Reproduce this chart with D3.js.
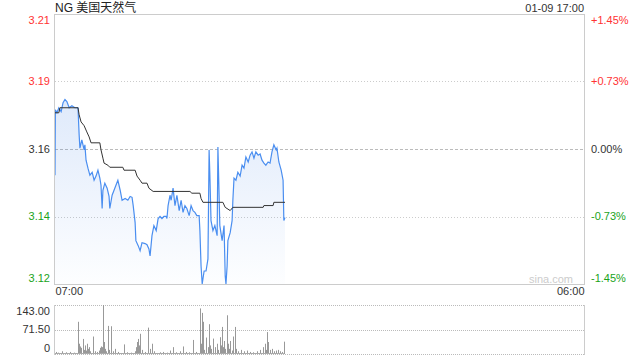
<!DOCTYPE html>
<html>
<head>
<meta charset="utf-8">
<script src="https://cdn.jsdelivr.net/npm/d3@7"></script>
<style>
  body { margin: 0; background: #fff; }
  svg { display: block; font-family: "Liberation Sans", Arial, "Noto Sans CJK SC", sans-serif; }
</style>
</head>
<body>
<div id="container"></div>
<script>
// price line (minute data)
const priceTimes = ['07:00','07:01','07:05','07:10','07:16','07:21','07:26','07:31','07:37','07:44','07:52','08:00','08:03','08:05','08:10','08:16','08:18','08:21','08:26','08:31','08:37','08:42','08:47','08:52','08:57','09:00','09:03','09:05','09:10','09:16','09:21','09:23','09:29','09:34','09:39','09:44','09:50','09:55','10:03','10:10','10:16','10:21','10:24','10:29','10:31','10:37','10:42','10:47','10:55','11:00','11:05','11:08','11:13','11:18','11:24','11:29','11:34','11:39','11:44','11:50','11:52','11:55','12:00','12:03','12:08','12:13','12:18','12:24','12:29','12:34','12:39','12:44','12:50','12:55','13:00','13:05','13:10','13:16','13:18','13:21','13:24','13:29','13:34','13:39','13:42','13:44','13:47','13:52','13:57','14:03','14:05','14:10','14:16','14:21','14:24','14:26','14:29','14:31','14:37','14:42','14:44','14:47','14:52','14:57','15:03','15:08','15:13','15:18','15:24','15:29','15:34','15:39','15:44','15:50','15:55','16:00','16:05','16:10','16:16','16:21','16:26','16:31','16:37','16:39','16:44','16:50','16:55','16:57','17:00']
const prices = [3.1511,3.1733,3.1723,3.1740,3.1727,3.1757,3.1768,3.1761,3.1740,3.1747,3.1740,3.1740,3.1648,3.1603,3.1631,3.1597,3.1614,3.1562,3.1535,3.1511,3.1521,3.1494,3.1508,3.1528,3.1501,3.1477,3.1398,3.1460,3.1484,3.1467,3.1439,3.1398,3.1443,3.1460,3.1477,3.1494,3.1460,3.1426,3.1432,3.1426,3.1439,3.1436,3.1408,3.1350,3.1289,3.1272,3.1255,3.1282,3.1279,3.1275,3.1261,3.1237,3.1306,3.1340,3.1323,3.1364,3.1371,3.1364,3.1371,3.1371,3.1364,3.1408,3.1443,3.1426,3.1467,3.1408,3.1443,3.1391,3.1426,3.1385,3.1408,3.1398,3.1374,3.1408,3.1391,3.1385,3.1374,3.1374,3.1323,3.1203,3.1142,3.1186,3.1186,3.1227,3.1597,3.1511,3.1357,3.1323,3.1340,3.1306,3.1607,3.1340,3.1289,3.1340,3.1169,3.1142,3.1203,3.1289,3.1316,3.1357,3.1426,3.1501,3.1494,3.1521,3.1508,3.1545,3.1535,3.1573,3.1556,3.1579,3.1590,3.1569,3.1590,3.1579,3.1583,3.1562,3.1552,3.1545,3.1556,3.1552,3.1590,3.1614,3.1597,3.1603,3.1556,3.1528,3.1494,3.1357,3.1367]

// average price line
const avgTimes = ['07:00','07:10','07:13','08:00','08:03','08:08','08:16','08:23','08:29','08:34','08:57','09:00','09:05','09:08','09:18','09:23','09:57','10:00','10:29','10:34','10:42','10:47','11:00','11:05','11:16','12:52','12:57','13:18','13:21','13:26','14:18','14:24','14:37','14:44','16:03','16:05','16:29','16:31','17:00']
const avgPrices = [3.1723,3.1723,3.1740,3.1740,3.1716,3.1692,3.1679,3.1658,3.1641,3.1621,3.1621,3.1597,3.1569,3.1552,3.1545,3.1538,3.1538,3.1528,3.1528,3.1508,3.1494,3.1484,3.1484,3.1467,3.1456,3.1456,3.1450,3.1450,3.1432,3.1419,3.1419,3.1402,3.1391,3.1402,3.1402,3.1408,3.1408,3.1419,3.1419]

// volume bars
const volTimes = ['07:03','07:08','07:18','07:29','07:39','07:50','08:00','08:03','08:05','08:08','08:13','08:16','08:18','08:21','08:23','08:26','08:29','08:31','08:39','08:44','08:50','08:55','08:57','09:00','09:03','09:05','09:08','09:10','09:13','09:18','09:21','09:26','09:31','09:37','09:44','10:00','10:08','10:18','10:29','10:31','10:34','10:37','10:39','10:42','10:47','10:55','11:03','11:08','11:13','11:18','11:34','11:42','11:52','12:00','12:08','12:16','12:26','12:34','12:42','12:50','13:00','13:08','13:18','13:21','13:24','13:26','13:29','13:34','13:39','13:42','13:44','13:47','13:52','13:57','14:03','14:05','14:10','14:13','14:16','14:18','14:21','14:24','14:29','14:31','14:34','14:37','14:42','14:44','14:50','14:52','14:57','15:05','15:13','15:21','15:29','15:37','15:47','15:55','16:03','16:08','16:10','16:13','16:16','16:21','16:26','16:31','16:37','16:42','16:47','16:52','16:57']
const volumes = [6,4,8,5,6,4,94,30,22,18,44,12,25,10,30,15,20,8,51,8,6,10,18,22,20,143,35,15,8,82,12,81,8,15,6,28,5,4,8,20,35,44,25,59,12,6,77,15,30,8,5,6,4,10,20,5,8,22,6,5,41,6,133,30,120,94,12,48,20,87,25,15,45,20,30,12,49,25,79,20,38,15,113,30,15,38,10,51,79,15,8,12,8,10,6,5,8,12,20,30,12,64,35,12,15,8,10,12,8,6,36]

const prevClose = 3.16
const pctTicks = [1.45, 0.73, 0, -0.73, -1.45]
const priceLabels = ['3.21', '3.19', '3.16', '3.14', '3.12']
const volTicks = [143, 71.5, 0]
const title = 'NG 美国天然气'
const stamp = '01-09 17:00'
const sessionStart = '2025-01-09 07:00'
const sessionEnd = '2025-01-10 06:00'

const w = 640
const h = 360
const x0 = 55, x1 = 584
const pTop = 14, pBottom = 284
const vTop = 305, vBottom = 354
const red = '#f33', green = '#1aa31a', dark = '#333'

const svg = d3.select('#container')
              .append('svg')
              .attr('width', w)
              .attr('height', h)

const parseFull = d3.timeParse('%Y-%m-%d %H:%M')
const parseT = t => parseFull('2025-01-09 ' + t)

// Scales
const xScale = d3.scaleTime()
                 .domain([parseFull(sessionStart), parseFull(sessionEnd)])
                 .range([x0, x1])
const lo = prevClose * (1 - 0.0145), hi = prevClose * (1 + 0.0145)
const yScale = d3.scaleLinear().domain([lo, hi]).range([pBottom, pTop])
const vScale = d3.scaleLinear().domain([0, 143]).range([vBottom, vTop])

const tickPrices = pctTicks.map(p => prevClose * (1 + p / 100))
const signColor = p => p > 0 ? red : (p < 0 ? green : dark)

// gradient for the area
const grad = svg.append('defs').append('linearGradient')
  .attr('id', 'fill').attr('gradientUnits', 'userSpaceOnUse')
  .attr('x1', 0).attr('x2', 0).attr('y1', 95).attr('y2', pBottom)
grad.append('stop').attr('offset', 0).attr('stop-color', '#3d7fe6').attr('stop-opacity', 0.17)
grad.append('stop').attr('offset', 1).attr('stop-color', '#3d7fe6').attr('stop-opacity', 0.01)

// grid lines
svg.append('g').selectAll('line')
   .data(pctTicks.filter(p => Math.abs(p) < 1.45))
   .enter().append('line')
   .attr('x1', x0).attr('x2', x1)
   .attr('y1', d => Math.round(yScale(prevClose * (1 + d / 100))) + 0.5)
   .attr('y2', d => Math.round(yScale(prevClose * (1 + d / 100))) + 0.5)
   .attr('stroke', d => d === 0 ? '#bbb' : '#ccc')
   .attr('stroke-dasharray', d => d === 0 ? '3,2' : '1,2')

svg.append('g').selectAll('line')
   .data(volTicks)
   .enter().append('line')
   .attr('x1', x0).attr('x2', x1)
   .attr('y1', d => Math.round(vScale(d)) + 0.5)
   .attr('y2', d => Math.round(vScale(d)) + 0.5)
   .attr('stroke', '#bbb')
   .attr('stroke-dasharray', '1,1')

// area + price line
const pts = priceTimes.map((t, i) => [parseT(t), prices[i]])
const area = d3.area().x(d => xScale(d[0])).y0(pBottom).y1(d => yScale(d[1]))
const line = d3.line().x(d => xScale(d[0])).y(d => yScale(d[1]))
svg.append('path').attr('d', area(pts)).attr('fill', 'url(#fill)')
svg.append('path').attr('d', line(pts))
   .attr('fill', 'none').attr('stroke', '#4a8ef0').attr('stroke-width', 1.2)

const avgPts = avgTimes.map((t, i) => [parseT(t), avgPrices[i]])
svg.append('path').attr('d', line(avgPts))
   .attr('fill', 'none').attr('stroke', '#333').attr('stroke-width', 1)

// volume bars
svg.append('g').selectAll('line')
   .data(volTimes.map((t, i) => [parseT(t), volumes[i]]))
   .enter().append('line')
   .attr('x1', d => Math.round(xScale(d[0])) + 0.5)
   .attr('x2', d => Math.round(xScale(d[0])) + 0.5)
   .attr('y1', vBottom)
   .attr('y2', d => vScale(d[1]))
   .attr('stroke', '#999')
svg.append('line')
   .attr('x1', x0).attr('x2', d3.max(volTimes, t => xScale(parseT(t))))
   .attr('y1', vBottom - 0.5).attr('y2', vBottom - 0.5)
   .attr('stroke', '#aaa')

// borders
svg.append('rect').attr('x', x0 - 0.5).attr('y', pTop + 0.5)
   .attr('width', x1 - x0 + 1).attr('height', pBottom - pTop)
   .attr('fill', 'none').attr('stroke', '#ccc')
svg.append('line').attr('x1', x0 - 0.5).attr('x2', x0 - 0.5).attr('y1', vTop).attr('y2', vBottom + 1).attr('stroke', '#ccc')
svg.append('line').attr('x1', x1 + 0.5).attr('x2', x1 + 0.5).attr('y1', vTop).attr('y2', vBottom + 1).attr('stroke', '#ccc')

// Axis
const clampY = (y, a, b) => Math.min(Math.max(y, a + 6), b - 6)

const yLeft = svg.append('g')
   .attr('transform', 'translate(' + (x0 - 1) + ',0)')
   .call(d3.axisLeft(yScale).tickValues(tickPrices)
            .tickFormat((d, i) => priceLabels[i]).tickSize(0).tickPadding(4))
const yRight = svg.append('g')
   .attr('transform', 'translate(' + (x1 + 1) + ',0)')
   .call(d3.axisRight(yScale).tickValues(tickPrices)
            .tickFormat((d, i) => (pctTicks[i] > 0 ? '+' : '') + pctTicks[i].toFixed(2) + '%')
            .tickSize(0).tickPadding(6))
;[yLeft, yRight].forEach(g => {
  g.select('.domain').remove()
  g.selectAll('.tick')
   .attr('transform', d => 'translate(0,' + clampY(yScale(d), pTop, pBottom) + ')')
   .select('text')
   .attr('fill', (d, i) => signColor(pctTicks[i]))
   .style('font-size', '11px')
})

const vAxis = svg.append('g')
   .attr('transform', 'translate(' + (x0 - 1) + ',0)')
   .call(d3.axisLeft(vScale).tickValues(volTicks)
            .tickFormat(d => d === 0 ? '0' : d.toFixed(2)).tickSize(0).tickPadding(4))
vAxis.select('.domain').remove()
vAxis.selectAll('.tick')
   .attr('transform', d => 'translate(0,' + clampY(vScale(d), vTop, vBottom) + ')')
   .select('text').attr('fill', dark).style('font-size', '11px')

const xAxis = svg.append('g')
   .attr('transform', 'translate(0,' + pBottom + ')')
   .call(d3.axisBottom(xScale).tickValues(xScale.domain())
            .tickFormat(d3.timeFormat('%H:%M')).tickSize(0).tickPadding(3))
xAxis.select('.domain').remove()
xAxis.selectAll('.tick text')
   .attr('text-anchor', (d, i) => i === 0 ? 'start' : 'end')
   .attr('fill', dark).style('font-size', '11px')

// texts
svg.append('text').attr('x', x0).attr('y', 12)
   .attr('fill', '#222').style('font-size', '12px').text(title)
svg.append('text').attr('x', x1).attr('y', 12).attr('text-anchor', 'end')
   .attr('fill', dark).style('font-size', '11px').text(stamp)
svg.append('text').attr('x', 573).attr('y', 283).attr('text-anchor', 'end')
   .attr('fill', '#ccc').style('font-size', '11px').text('sina.com')
</script>
</body>
</html>
